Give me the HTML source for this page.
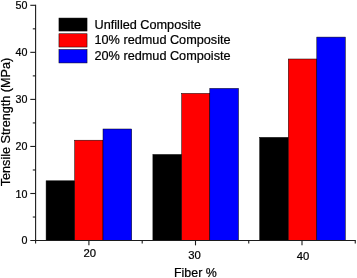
<!DOCTYPE html><html><head><meta charset="utf-8"><title>chart</title><style>html,body{margin:0;padding:0;background:#fff}svg{display:block}text{font-family:"Liberation Sans",Arial,sans-serif;fill:#000;stroke:#000;stroke-width:0.22px}</style></head><body>
<svg width="357" height="278" viewBox="0 0 357 278">
<rect width="357" height="278" fill="#fff"/>
<rect x="46.10" y="180.80" width="28.60" height="59.75" fill="#000000" stroke="#000" stroke-width="0.5"/>
<rect x="74.70" y="140.20" width="28.30" height="100.35" fill="#ff0000" stroke="#000" stroke-width="0.5"/>
<rect x="103.00" y="129.00" width="28.70" height="111.55" fill="#0000ff" stroke="#000" stroke-width="0.5"/>
<rect x="152.90" y="154.50" width="28.80" height="86.05" fill="#000000" stroke="#000" stroke-width="0.5"/>
<rect x="181.70" y="93.40" width="28.10" height="147.15" fill="#ff0000" stroke="#000" stroke-width="0.5"/>
<rect x="209.80" y="88.40" width="28.70" height="152.15" fill="#0000ff" stroke="#000" stroke-width="0.5"/>
<rect x="259.70" y="137.40" width="28.60" height="103.15" fill="#000000" stroke="#000" stroke-width="0.5"/>
<rect x="288.30" y="59.00" width="28.50" height="181.55" fill="#ff0000" stroke="#000" stroke-width="0.5"/>
<rect x="316.80" y="37.10" width="28.50" height="203.45" fill="#0000ff" stroke="#000" stroke-width="0.5"/>
<g stroke="#1c1c1c" stroke-width="1.1" fill="none">
<path d="M35.6 4.8V243.55"/>
<path d="M30.3 240.55H355.8"/>
<path d="M30.3 193.50H35.6"/>
<path d="M30.3 146.45H35.6"/>
<path d="M30.3 99.40H35.6"/>
<path d="M30.3 52.35H35.6"/>
<path d="M30.3 5.30H35.6"/>
<path d="M32.800000000000004 217.03H35.6"/>
<path d="M32.800000000000004 169.98H35.6"/>
<path d="M32.800000000000004 122.93H35.6"/>
<path d="M32.800000000000004 75.88H35.6"/>
<path d="M32.800000000000004 28.83H35.6"/>
<path d="M88.9 240.55V245.35000000000002"/>
<path d="M195.5 240.55V245.35000000000002"/>
<path d="M302.0 240.55V245.35000000000002"/>
<path d="M142.20 240.55V243.55"/>
<path d="M248.75 240.55V243.55"/>
<path d="M355.25 240.55V243.55"/>
</g>
<text x="27.5" y="244.25" font-size="10.7" text-anchor="end">0</text>
<text x="27.5" y="197.50" font-size="10.7" text-anchor="end">10</text>
<text x="27.5" y="150.45" font-size="10.7" text-anchor="end">20</text>
<text x="27.5" y="103.40" font-size="10.7" text-anchor="end">30</text>
<text x="27.5" y="56.35" font-size="10.7" text-anchor="end">40</text>
<text x="27.5" y="9.30" font-size="10.7" text-anchor="end">50</text>
<text x="89.80" y="257.2" font-size="11.3" text-anchor="middle">20</text>
<text x="194.50" y="258.9" font-size="11.3" text-anchor="middle">30</text>
<text x="303.00" y="260.0" font-size="11.3" text-anchor="middle">40</text>
<text x="195.4" y="276.6" font-size="12.4" text-anchor="middle">Fiber %</text>
<text transform="translate(10.3 122) rotate(-90)" font-size="12.65" text-anchor="middle">Tensile Strength (MPa)</text>
<rect x="58.95" y="18.05" width="28.1" height="13.00" fill="#000000" stroke="#000" stroke-width="0.5"/>
<text x="94.5" y="29.4" font-size="12.7">Unfilled Composite</text>
<rect x="58.95" y="33.75" width="28.1" height="13.30" fill="#ff0000" stroke="#000" stroke-width="0.5"/>
<text x="94.5" y="44.45" font-size="12.7">10% redmud Composite</text>
<rect x="58.95" y="49.45" width="28.1" height="13.50" fill="#0000ff" stroke="#000" stroke-width="0.5"/>
<text x="94.5" y="60.25" font-size="12.7">20% redmud Compoiste</text>
</svg></body></html>
